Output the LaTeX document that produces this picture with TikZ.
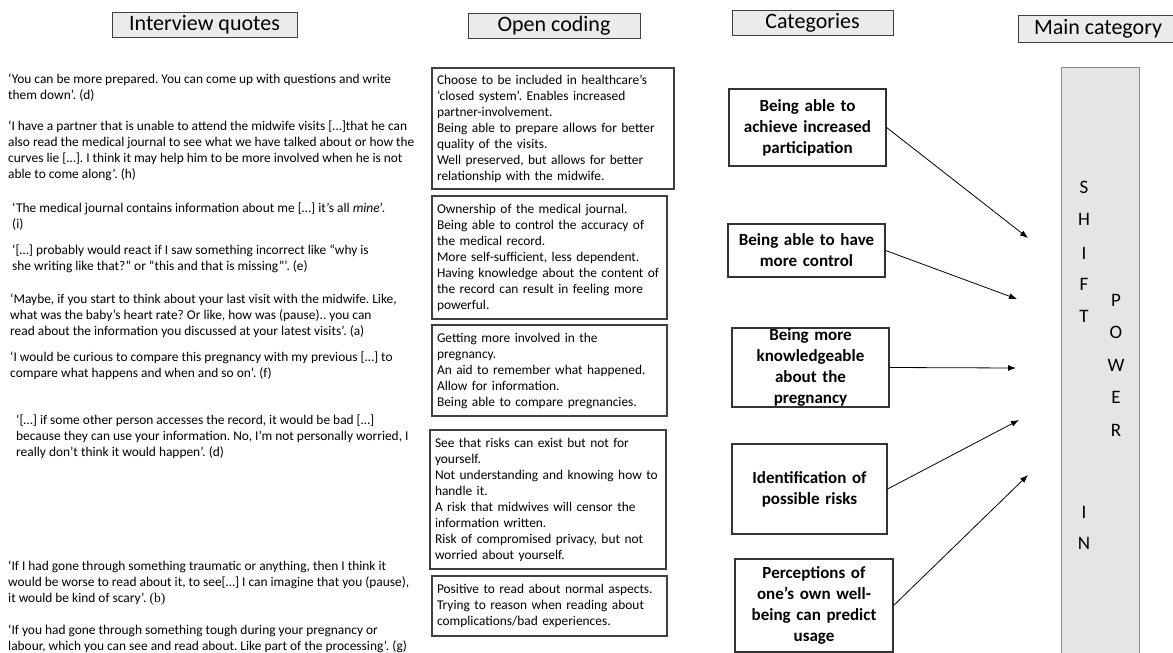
\documentclass[tikz,border=0pt]{standalone}
\usepackage{fontspec}
\setmainfont{Carlito}
\newfontfamily\tnrfont{Liberation Serif}
\usetikzlibrary{arrows.meta}
\frenchspacing

\tikzset{
  head/.style={draw=black!75, fill=black!8, line width=0.9pt, inner sep=0pt,
    minimum height=25pt, font=\fontsize{22}{24}\selectfont},
  quote/.style={anchor=north west, align=left, inner sep=0pt,
    font=\fontsize{13.4}{16}\selectfont},
  codebox/.style={draw=black!75, line width=1.1pt, align=left, inner xsep=5pt,
    inner ysep=0pt, font=\fontsize{13.4}{16}\selectfont},
  catbox/.style={draw=black!80, line width=1.2pt, align=center, inner sep=0pt,
    text width=150pt, font=\bfseries\fontsize{17}{21}\selectfont},
  letter/.style={inner sep=0pt, font=\fontsize{19}{19}\selectfont},
  link/.style={-{Latex[length=8pt,width=6pt]}, line width=0.8pt},
}

\begin{document}
\begin{tikzpicture}[x=1pt,y=-1pt]
      \useasboundingbox (0,0) rectangle (1173,653);
      % column headers
      \node[head, minimum width=185pt] (hquotes) at (204.5,24.5) {Interview quotes};
      \node[head, minimum width=172pt] (hcoding) at (554,26) {Open coding};
      \node[head, minimum width=161pt] (hcats) at (812.5,23) {Categories};
      \node[head, minimum width=160pt, minimum height=27pt] (hmain) at (1098,28.5) {Main category};

      % interview quotes
      \node[quote] (q1) at (8,74) {‘You can be more prepared. You can come up with questions and write\\ them down’. (d)};
      \node[quote] (q2) at (8,121) {‘I have a partner that is unable to attend the midwife visits […]that he can\\ also read the medical journal to see what we have talked about or how the\\ curves lie […]. I think it may help him to be more involved when he is not\\ able to come along’. (h)};
      \node[quote] (q3) at (12,203) {‘The medical journal contains information about me […] it’s all \textit{mine}’.\\ (i)};
      \node[quote] (q4) at (12,245) {‘[…] probably would react if I saw something incorrect like “why is\\ she writing like that?” or “this and that is missing”’. (e)};
      \node[quote] (q5) at (10,294) {‘Maybe, if you start to think about your last visit with the midwife. Like,\\ what was the baby’s heart rate? Or like, how was (pause).. you can\\ read about the information you discussed at your latest visits’. (a)};
      \node[quote] (q6) at (10,352) {‘I would be curious to compare this pregnancy with my previous […] to\\ compare what happens and when and so on’. (f)};
      \node[quote] (q7) at (16,415) {‘[…] if some other person accesses the record, it would be bad […]\\ because they can use your information. No, I’m not personally worried, I\\ really don’t think it would happen’. (d)};
      \node[quote] (q8) at (8,561) {‘If I had gone through something traumatic or anything, then I think it\\ would be worse to read about it, to see[…] I can imagine that you (pause),\\ it would be kind of scary’. {\tnrfont (b)}};
      \node[quote] (q9) at (8,625) {‘If you had gone through something tough during your pregnancy or\\ labour, which you can see and read about. Like part of the processing’. (g)};

      % open coding
      \node[codebox, text width=232pt, minimum height=121pt] (c1) at (553,128.5) {Choose to be included in healthcare’s\\ ‘closed system’. Enables increased\\ partner-involvement.\\ Being able to prepare allows for better\\ quality of the visits.\\ Well preserved, but allows for better\\ relationship with the midwife.};
      \node[codebox, text width=225pt, minimum height=123pt] (c2) at (549.5,257.5) {Ownership of the medical journal.\\ Being able to control the accuracy of\\ the medical record.\\ More self-sufficient, less dependent.\\ Having knowledge about the content of\\ the record can result in feeling more\\ powerful.};
      \node[codebox, text width=225pt, minimum height=91pt] (c3) at (549.5,370.5) {Getting more involved in the\\ pregnancy.\\ An aid to remember what happened.\\ Allow for information.\\ Being able to compare pregnancies.};
      \node[codebox, text width=226pt, minimum height=139pt] (c4) at (548,499.5) {See that risks can exist but not for\\ yourself.\\ Not understanding and knowing how to\\ handle it.\\ A risk that midwives will censor the\\ information written.\\ Risk of compromised privacy, but not\\ worried about yourself.};
      \node[codebox, text width=225pt, minimum height=60pt] (c5) at (549.5,606) {Positive to read about normal aspects.\\ Trying to reason when reading about\\ complications/bad experiences.};

      % categories
      \node[catbox, minimum width=157pt, minimum height=77pt] (cat1) at (807.5,127.5) {Being able to\\ achieve increased\\ participation};
      \node[catbox, minimum width=157pt, minimum height=53pt] (cat2) at (806.5,250.5) {Being able to have\\ more control};
      \node[catbox, minimum width=157pt, minimum height=79pt] (cat3) at (810.5,367.5) {Being more\\ knowledgeable\\ about the\\ pregnancy};
      \node[catbox, minimum width=155pt, minimum height=90pt] (cat4) at (809.5,489) {Identification of\\ possible risks};
      \node[catbox, minimum width=158pt, minimum height=93pt] (cat5) at (814,605.5) {Perceptions of\\ one’s own well-\\ being can predict\\ usage};

      % main category bar
      \draw[draw=black!45, fill=black!10, line width=0.9pt] (1061,67) rectangle (1139,670);
      \foreach \ch/\yy in {S/187, H/219, I/253, F/284, T/316, I/512, N/543}
        \node[letter] at (1084,\yy) {\ch};
      \foreach \ch/\yy in {P/300, O/332, W/365, E/397, R/430}
        \node[letter] at (1116,\yy) {\ch};

      % arrows towards the bar
      \coordinate (t1) at (1028,238);
      \coordinate (t2) at (1017,299);
      \coordinate (t3) at (1016,368);
      \coordinate (t4) at (1019,420);
      \coordinate (t5) at (1028,475);
      \draw[link] (cat1.east) -- (t1);
      \draw[link] (cat2.east) -- (t2);
      \draw[link] (cat3.east) -- (t3);
      \draw[link] (cat4.east) -- (t4);
      \draw[link] (cat5.east) -- (t5);
    \end{tikzpicture}
\end{document}
